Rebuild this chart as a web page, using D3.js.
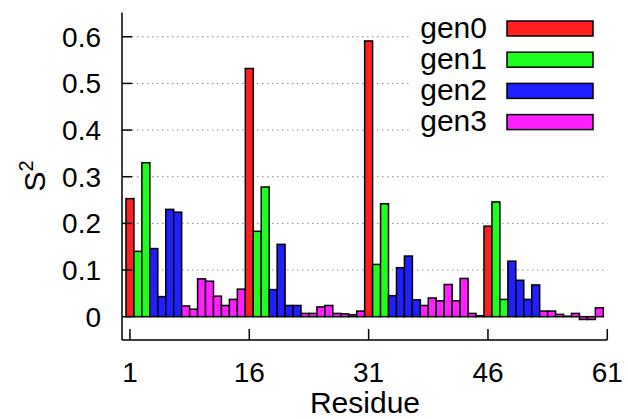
<!DOCTYPE html>
<html>
<head>
<meta charset="utf-8">
<script src="https://cdn.jsdelivr.net/npm/d3@7"></script>
<style>
  body { margin: 0; background: #fff; }
  text { font-family: "Liberation Sans", Arial, sans-serif; fill: #000; }
</style>
</head>
<body>
<div id="chart"></div>
<script>
// S2 per residue, coloured by generation
const values = [
  0.253, 0.140, 0.330, 0.146, 0.043, 0.230, 0.224, 0.023, 0.016, 0.081,
  0.076, 0.044, 0.024, 0.037, 0.059, 0.532, 0.183, 0.278, 0.058, 0.155,
  0.024, 0.024, 0.007, 0.007, 0.021, 0.024, 0.007, 0.006, 0.004, 0.012,
  0.591, 0.112, 0.242, 0.045, 0.105, 0.130, 0.036, 0.024, 0.040, 0.034,
  0.069, 0.034, 0.082, 0.007, 0.002, 0.194, 0.246, 0.037, 0.119, 0.078,
  0.037, 0.068, 0.012, 0.012, 0.005, 0.001, 0.007, -0.006, -0.006, 0.019
];
const gens = [
  0, 1, 1, 2, 2, 2, 2, 3, 3, 3, 3, 3, 3, 3, 3,
  0, 1, 1, 2, 2, 2, 2, 3, 3, 3, 3, 3, 3, 3, 3,
  0, 1, 1, 2, 2, 2, 2, 3, 3, 3, 3, 3, 3, 3, 3,
  0, 1, 1, 2, 2, 2, 2, 3, 3, 3, 3, 3, 3, 3, 3
];
const genNames = ["gen0", "gen1", "gen2", "gen3"];
const genColors = ["#ff1f1f", "#1fff1f", "#1f1fff", "#ff1fff"];
const xTicks = [1, 16, 31, 46, 61];
const yTicks = [0, 0.1, 0.2, 0.3, 0.4, 0.5, 0.6];

const W = 628, H = 419;
const plot = {left: 122, right: 607.3, top: 12.5, bottom: 340};

const svg = d3.select("#chart").append("svg")
  .attr("width", W).attr("height", H);

const x = d3.scaleLinear().domain([0, 61]).range([plot.left, plot.right]);
const y = d3.scaleLinear().domain([-0.05, 0.652]).range([plot.bottom, plot.top]);

// dotted grid
svg.append("g").selectAll("line")
  .data(yTicks)
  .enter().append("line")
  .attr("x1", plot.left).attr("x2", plot.right)
  .attr("y1", d => y(d)).attr("y2", d => y(d))
  .attr("stroke", "#8a8a8a")
  .attr("stroke-width", 1)
  .attr("stroke-dasharray", "1.5,3.5");

// bars
const data = values.map((v, i) => ({res: i + 1, v: v, g: gens[i]}));
svg.append("g").selectAll("rect")
  .data(data)
  .enter().append("rect")
  .attr("x", d => x(d.res - 0.5))
  .attr("width", d => x(d.res + 0.5) - x(d.res - 0.5))
  .attr("y", d => y(Math.max(0, d.v)))
  .attr("height", d => Math.abs(y(d.v) - y(0)))
  .attr("fill", d => genColors[d.g])
  .attr("stroke", "#000")
  .attr("stroke-width", 1.5);

// legend with white box
const leg = svg.append("g");
leg.append("rect")
  .attr("x", 412).attr("y", 8).attr("width", 200).attr("height", 132)
  .attr("fill", "#fff");
genNames.forEach((name, i) => {
  const cy = 28.5 + i * 31.2;
  leg.append("text")
    .attr("x", 487).attr("y", cy + 9)
    .attr("text-anchor", "end")
    .style("font-size", "30px")
    .text(name);
  leg.append("rect")
    .attr("x", 507).attr("y", cy - 7.5)
    .attr("width", 86).attr("height", 15)
    .attr("fill", genColors[i])
    .attr("stroke", "#000")
    .attr("stroke-width", 1.5);
});

// axes lines
const axis = svg.append("g").attr("stroke", "#000").attr("stroke-width", 1.5);
axis.append("line").attr("x1", plot.left).attr("x2", plot.left).attr("y1", plot.top).attr("y2", plot.bottom);
axis.append("line").attr("x1", plot.left).attr("x2", plot.right).attr("y1", plot.bottom).attr("y2", plot.bottom);
axis.selectAll(".xt").data(xTicks).enter().append("line")
  .attr("x1", d => x(d)).attr("x2", d => x(d))
  .attr("y1", plot.bottom).attr("y2", plot.bottom - 11);
axis.selectAll(".yt").data(yTicks).enter().append("line")
  .attr("x1", plot.left).attr("x2", plot.left + 10)
  .attr("y1", d => y(d)).attr("y2", d => y(d));

// tick labels
svg.append("g").selectAll("text")
  .data(yTicks)
  .enter().append("text")
  .attr("x", 101).attr("y", d => y(d) + 10)
  .attr("text-anchor", "end")
  .style("font-size", "28px")
  .text(d => d === 0 ? "0" : d3.format(".1f")(d));

svg.append("g").selectAll("text")
  .data(xTicks)
  .enter().append("text")
  .attr("x", d => x(d)).attr("y", 382)
  .attr("text-anchor", "middle")
  .style("font-size", "28px")
  .text(d => d);

// axis titles
svg.append("text")
  .attr("x", 365).attr("y", 413)
  .attr("text-anchor", "middle")
  .style("font-size", "30px")
  .text("Residue");

const yl = svg.append("text")
  .attr("transform", "translate(45,176) rotate(-90)")
  .attr("text-anchor", "middle")
  .style("font-size", "30px");
yl.append("tspan").text("S");
yl.append("tspan").attr("dy", -12).style("font-size", "20px").text("2");
</script>
</body>
</html>
